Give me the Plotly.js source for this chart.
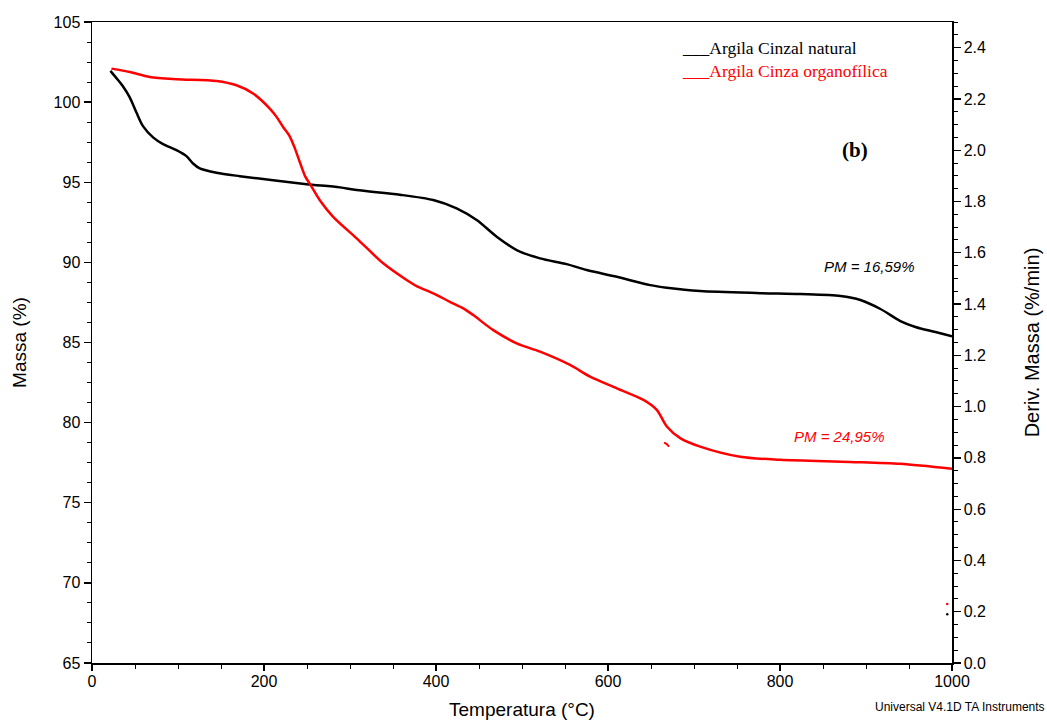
<!DOCTYPE html>
<html>
<head>
<meta charset="utf-8">
<script src="https://cdn.plot.ly/plotly-3.0.1.min.js"></script>
<style>html,body{margin:0;padding:0;background:#fff;}#chart{width:1047px;height:725px;}</style>
</head>
<body>
<div id="chart"></div>
<script>
// Series names
const seriesNames = ["Argila Cinzal natural", "Argila Cinza organofílica"];
const seriesColors = ["#000000", "#ff0000"];

// Black curve: Argila Cinzal natural (mass %)
const tempNatural = [21.4, 28.4, 36.1, 43.9, 51.7, 59.3, 71.0, 82.6, 98.2, 109.8, 117.5, 125.3, 144.8, 171.9, 210.6, 249.5, 288.2, 307.7, 358.0, 396.8, 424.0, 447.3, 470.6, 493.8, 521.0, 552.0, 575.3, 610.2, 649.0, 668.4, 707.2, 777, 823.7, 870.3, 893.5, 916.8, 940, 957.5, 980.8, 1000];
const massNatural = [101.95, 101.5, 100.98, 100.3, 99.35, 98.5, 97.8, 97.38, 97.0, 96.63, 96.17, 95.86, 95.59, 95.38, 95.13, 94.88, 94.68, 94.51, 94.22, 93.89, 93.37, 92.64, 91.6, 90.77, 90.25, 89.89, 89.52, 89.1, 88.58, 88.42, 88.21, 88.08, 88.02, 87.9, 87.65, 87.09, 86.34, 85.97, 85.65, 85.38];

// Red curve: Argila Cinza organofílica (mass %)
const tempOrgano = [22.6, 43.9, 67.1, 98.2, 144.8, 168.0, 187.3, 206.7, 214.6, 222.2, 230.0, 236.0, 242.0, 248.0, 253.3, 264.9, 280.4, 307.7, 338.6, 365.8, 377.5, 396.8, 416.2, 431.7, 443.3, 466.6, 493.8, 521.0, 555.9, 579.2, 610.2, 641.2, 656.7, 668.4, 683.9, 707.2, 753.6, 800.1, 881.6, 939.7, 1000];
const massOrgano = [102.09, 101.88, 101.57, 101.43, 101.32, 101.05, 100.54, 99.6, 99.08, 98.45, 97.85, 97.1, 96.2, 95.35, 94.9, 93.88, 92.84, 91.5, 89.94, 88.9, 88.52, 88.07, 87.54, 87.13, 86.71, 85.77, 84.95, 84.43, 83.6, 82.87, 82.14, 81.42, 80.8, 79.76, 79.03, 78.5, 77.87, 77.68, 77.55, 77.43, 77.12];

// Small stray red fragment
const tempFragment = [665.2, 668, 671];
const massFragment = [78.75, 78.68, 78.5];

// Derivative traces (only tiny end points visible), right axis
const derivTemp = [994.5];
const derivNatural = [0.19];
const derivOrgano = [0.23];

// Annotation texts
const massLosses = ["PM = 16,59%", "PM = 24,95%"];
const panelLabel = "(b)";
const footer = "Universal V4.1D TA Instruments";

const traces = [
  {x: tempNatural, y: massNatural, mode: "lines", line: {color: seriesColors[0], width: 2.5, shape: "spline", smoothing: 0.8}, name: seriesNames[0], showlegend: false},
  {x: tempOrgano, y: massOrgano, mode: "lines", line: {color: seriesColors[1], width: 2.5, shape: "spline", smoothing: 0.8}, name: seriesNames[1], showlegend: false},
  {x: tempFragment, y: massFragment, mode: "lines", line: {color: seriesColors[1], width: 2}, showlegend: false, hoverinfo: "skip"},
  {x: derivTemp, y: derivNatural, yaxis: "y2", mode: "markers", marker: {color: seriesColors[0], size: 2.5}, showlegend: false},
  {x: derivTemp, y: derivOrgano, yaxis: "y2", mode: "markers", marker: {color: seriesColors[1], size: 2.5}, showlegend: false}
];

const sans = "Liberation Sans, Arial, sans-serif";
const serif = "Liberation Serif, Times New Roman, serif";

const layout = {
  width: 1047, height: 725,
  margin: {l: 92, r: 95, t: 22, b: 62},
  paper_bgcolor: "#fff", plot_bgcolor: "#fff",
  showlegend: false,
  xaxis: {
    range: [0, 1000], dtick: 200, tick0: 0,
    showgrid: false, zeroline: false,
    showline: true, linecolor: "#000", linewidth: 1.5, mirror: true,
    ticks: "outside", ticklen: 6, tickwidth: 1.3, tickcolor: "#000",
    minor: {dtick: 50, ticks: "outside", ticklen: 4, tickcolor: "#000", tickwidth: 1},
    tickfont: {family: sans, size: 16, color: "#000"},
    ticklabelstandoff: -3,
    title: {text: "Temperatura (°C)", font: {family: sans, size: 19, color: "#000"}, standoff: 14}
  },
  yaxis: {
    range: [65, 105], dtick: 5, tick0: 65,
    showgrid: false, zeroline: false,
    showline: true, linecolor: "#000", linewidth: 1.5,
    ticks: "outside", ticklen: 7, tickwidth: 1.3, tickcolor: "#000",
    minor: {dtick: 1.25, ticks: "outside", ticklen: 4, tickcolor: "#000", tickwidth: 1},
    tickfont: {family: sans, size: 16, color: "#000"},
    title: {text: "Massa (%)", font: {family: sans, size: 19, color: "#000"}, standoff: 22}
  },
  yaxis2: {
    overlaying: "y", side: "right",
    range: [0, 2.5], dtick: 0.2, tick0: 0, tickformat: ".1f",
    showgrid: false, zeroline: false,
    showline: true, linecolor: "#000", linewidth: 1.5,
    ticks: "outside", ticklen: 7, tickwidth: 1.3, tickcolor: "#000",
    minor: {dtick: 0.05, ticks: "outside", ticklen: 4, tickcolor: "#000", tickwidth: 1},
    tickfont: {family: sans, size: 16, color: "#000"},
    title: {text: "Deriv. Massa (%/min)", font: {family: sans, size: 20, color: "#000"}, standoff: 40}
  },
  annotations: [
    {xref: "paper", yref: "paper", x: 0.684, y: 0.959, xanchor: "left", yanchor: "middle", showarrow: false,
     text: "___" + seriesNames[0], font: {family: serif, size: 17.5, color: seriesColors[0]}},
    {xref: "paper", yref: "paper", x: 0.684, y: 0.923, xanchor: "left", yanchor: "middle", showarrow: false,
     text: "___" + seriesNames[1], font: {family: serif, size: 17.5, color: seriesColors[1]}},
    {xref: "paper", yref: "paper", x: 0.887, y: 0.80, xanchor: "center", yanchor: "middle", showarrow: false,
     text: "<b>" + panelLabel + "</b>", font: {family: serif, size: 21, color: "#000"}},
    {xref: "paper", yref: "paper", x: 0.904, y: 0.619, xanchor: "center", yanchor: "middle", showarrow: false,
     text: "<i>" + massLosses[0] + "</i>", font: {family: sans, size: 15, color: seriesColors[0]}},
    {xref: "paper", yref: "paper", x: 0.869, y: 0.354, xanchor: "center", yanchor: "middle", showarrow: false,
     text: "<i>" + massLosses[1] + "</i>", font: {family: sans, size: 15, color: seriesColors[1]}},
    {xref: "paper", yref: "paper", x: 1.11, y: -0.069, xanchor: "right", yanchor: "middle", showarrow: false,
     text: footer, font: {family: sans, size: 12, color: "#000"}}
  ]
};

Plotly.newPlot("chart", traces, layout, {displayModeBar: false, staticPlot: true});
</script>
</body>
</html>
